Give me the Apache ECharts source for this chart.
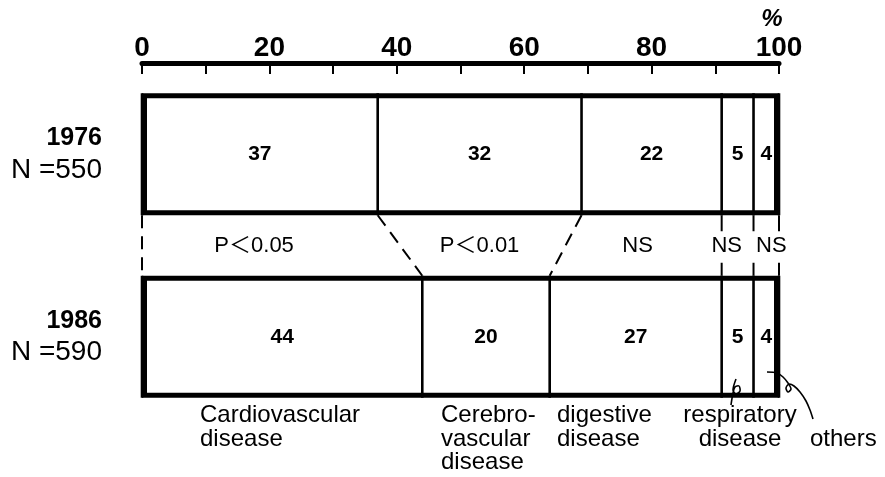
<!DOCTYPE html>
<html><head><meta charset="utf-8">
<script src="https://cdn.jsdelivr.net/npm/echarts@6/dist/echarts.min.js"></script>
<style>html,body{margin:0;padding:0;background:#fff}#c{width:885px;height:477px}</style>
</head><body><div id="c"></div>
<script>
// ---- data ----
const years = ['1976', '1986'];
const sampleN = [550, 590];
const causes = ['Cardiovascular disease', 'Cerebrovascular disease', 'digestive disease', 'respiratory disease', 'others'];
const pct1976 = [37, 32, 22, 5, 4];
const pct1986 = [44, 20, 27, 5, 4];
const tests = ['P＜0.05', 'P＜0.01', 'NS', 'NS', 'NS'];
const testPos = [17.6, 53.0, 77.8, 91.8, 98.8];   // x (in %) where each test label sits
const tickLabels = [0, 20, 40, 60, 80, 100];

// ---- derived ----
function cum(a){ const r=[0]; a.forEach(v=>r.push(r[r.length-1]+v)); return r; }
const cum76 = cum(pct1976), cum86 = cum(pct1986);
const boundaries = cum76.map((v,i)=>[v, cum86[i], i < 3 ? 1 : 0]);

const SANS = '"Liberation Sans",Arial,sans-serif';
const PFONT = '"Liberation Sans","Noto Sans CJK JP",sans-serif';
const BAR_H = 122;

const chart = echarts.init(document.getElementById('c'), null, {renderer:'canvas'});

const barSeries = causes.map((name, i) => ({
  name, type: 'bar', stack: 'total', barWidth: BAR_H,
  data: [pct1976[i], pct1986[i]],
  itemStyle: {color: '#fff', borderWidth: 0},
  label: {show: true, position: 'inside', formatter: '{c}', color: '#000',
          fontFamily: SANS, fontWeight: 'bold', fontSize: 21},
  silent: true, z: 2
}));

const option = {
  animation: false,
  backgroundColor: '#fff',
  grid: {left: 142, right: 106, top: 63, height: 365, containLabel: false, outerBoundsMode: 'none'},
  xAxis: {
    type: 'value', position: 'top', min: 0, max: 100, interval: 10,
    axisLine: {show: true, lineStyle: {color: '#000', width: 5}},
    axisTick: {show: true, inside: true, length: 11, lineStyle: {color: '#000', width: 2}},
    axisLabel: {show: true, margin: 1, color: '#000', fontFamily: SANS, fontWeight: 'bold', fontSize: 28,
      formatter: v => tickLabels.indexOf(v) >= 0 ? String(v) : ''},
    splitLine: {show: false}
  },
  yAxis: {
    type: 'category', data: years, inverse: true,
    axisLine: {show: false}, axisTick: {show: false}, splitLine: {show: false},
    axisLabel: {
      margin: 40, align: 'right',
      formatter: (v, i) => '{y|' + v + '}\n{n|N =' + sampleN[i] + '}',
      rich: {
        y: {fontFamily: SANS, fontWeight: 'bold', fontSize: 25, lineHeight: 32, color: '#000', align: 'right'},
        n: {fontFamily: SANS, fontSize: 28, lineHeight: 32, color: '#000', align: 'right'}
      }
    }
  },
  series: [
    ...barSeries,
    {
      name: 'dividers', type: 'custom', silent: true, z: 4,
      data: boundaries,
      encode: {x: [0, 1]},
      renderItem: (params, api) => {
        const a = api.coord([api.value(0), 0]);
        const b = api.coord([api.value(1), 1]);
        const h = BAR_H / 2;
        return {type: 'group', children: [
          {type: 'line', shape: {x1: a[0], y1: a[1] - h, x2: a[0], y2: a[1] + h}, style: {stroke: '#000', lineWidth: 2.6}},
          {type: 'line', shape: {x1: b[0], y1: b[1] - h, x2: b[0], y2: b[1] + h}, style: {stroke: '#000', lineWidth: 2.6}}
        ]};
      }
    },
    {
      name: 'outline', type: 'bar', barWidth: BAR_H, barGap: '-100%',
      data: [cum76[cum76.length-1], cum86[cum86.length-1]],
      itemStyle: {color: 'rgba(0,0,0,0)', borderColor: '#000', borderWidth: 5},
      silent: true, z: 5
    },
    {
      name: 'connectors', type: 'custom', silent: true, z: 4,
      data: boundaries,
      encode: {x: [0, 1]},
      renderItem: (params, api) => {
        const a = api.coord([api.value(0), 0]);
        const b = api.coord([api.value(1), 1]);
        const y1 = a[1] + BAR_H/2, y2 = b[1] - BAR_H/2;
        if (api.value(2)) {
          return {type: 'line', shape: {x1: a[0], y1: y1, x2: b[0], y2: y2},
                  style: {stroke: '#000', lineWidth: 2, lineDash: [13, 8]}};
        }
        return {type: 'group', children: [
          {type: 'line', shape: {x1: a[0], y1: y1, x2: a[0], y2: y1 + 16}, style: {stroke: '#000', lineWidth: 2}},
          {type: 'line', shape: {x1: b[0], y1: y2 - 13, x2: b[0], y2: y2}, style: {stroke: '#000', lineWidth: 2}}
        ]};
      }
    },
    {
      name: 'tests', type: 'custom', silent: true, z: 6,
      data: testPos.map((p, i) => [p, i]),
      encode: {x: 0},
      renderItem: (params, api) => {
        const a = api.coord([api.value(0), 0]);
        const b = api.coord([api.value(0), 1]);
        const y = ((a[1] + BAR_H/2) + (b[1] - BAR_H/2)) / 2;
        return {type: 'text', x: a[0], y: y,
          style: {text: tests[params.dataIndex], fill: '#000', font: '22px ' + PFONT,
                  align: 'center', verticalAlign: 'middle'}};
      }
    }
  ],
  graphic: [
    {type: 'text', z: 10, x: 772, y: 19, style: {text: '%', font: 'italic bold 24px ' + SANS, fill: '#000', align: 'center', verticalAlign: 'middle'}},
    {type: 'text', z: 10, x: 200, y: 404, style: {text: 'Cardiovascular\ndisease', font: '24px ' + SANS, lineHeight: 23.5, fill: '#000', align: 'left', verticalAlign: 'top'}},
    {type: 'text', z: 10, x: 441, y: 404, style: {text: 'Cerebro-\nvascular\ndisease', font: '24px ' + SANS, lineHeight: 23.5, fill: '#000', align: 'left', verticalAlign: 'top'}},
    {type: 'text', z: 10, x: 557, y: 404, style: {text: 'digestive\ndisease', font: '24px ' + SANS, lineHeight: 23.5, fill: '#000', align: 'left', verticalAlign: 'top'}},
    {type: 'text', z: 10, x: 740, y: 404, style: {text: 'respiratory\ndisease', font: '24px ' + SANS, lineHeight: 23.5, fill: '#000', align: 'center', verticalAlign: 'top'}},
    {type: 'text', z: 10, x: 810, y: 427.5, style: {text: 'others', font: '24px ' + SANS, lineHeight: 23.5, fill: '#000', align: 'left', verticalAlign: 'top'}},
    {type: 'polyline', z: 10, shape: {points: [[731,405],[733,393],[735,387],[739,386],[740,391],[736,394],[733,390],[736,379]], smooth: 0.3},
     style: {stroke: '#000', lineWidth: 1.6, fill: null}},
    {type: 'polyline', z: 10, shape: {points: [[767,372],[777,373],[783,377],[788,383],[791,389],[788,392],[786,388],[789,384],[794,386],[800,392],[806,401],[810,410],[813,419]], smooth: 0.3},
     style: {stroke: '#000', lineWidth: 1.6, fill: null}}
  ]
};
chart.setOption(option);
</script>
</body></html>
